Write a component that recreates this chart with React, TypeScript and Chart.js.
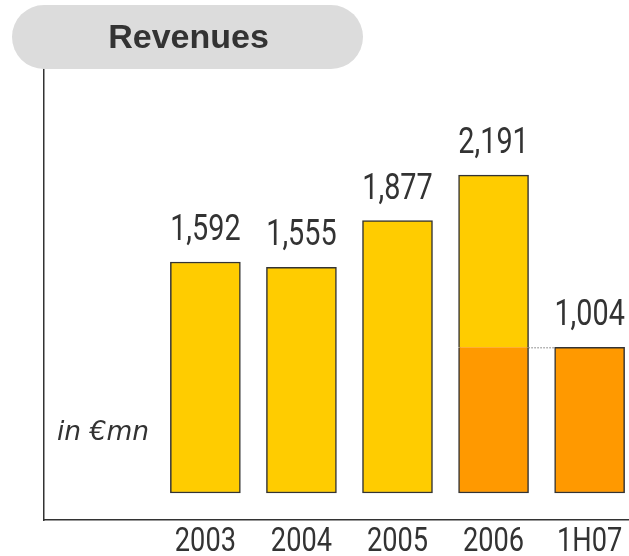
import React, { useEffect, useRef } from "react";
import { Chart, registerables } from "chart.js";

Chart.register(...registerables);

const categories = ["2003", "2004", "2005", "2006", "1H07"];
const totals = [1592, 1555, 1877, 2191, 1004];
const firstHalf: (number | null)[] = [null, null, null, 1004, 1004];
const valueLabels = ["1,592", "1,555", "1,877", "2,191", "1,004"];
const titleText = "Revenues";
const unitText = "in €mn";

const YELLOW = "#FFCC00";
const ORANGE = "#FF9900";
const DARK = "#333333";

const X_MIN = -1.68;
const X_MAX = 4.41;
const Y_MIN = -186;
const Y_MAX = 2929;

const baseValues = categories.map((_, i) => (firstHalf[i] != null ? (firstHalf[i] as number) : totals[i]));
const topValues = categories.map((_, i) =>
  firstHalf[i] != null && totals[i] > (firstHalf[i] as number) ? totals[i] - (firstHalf[i] as number) : null
);

function drawCondensed(ctx: CanvasRenderingContext2D, text: string, cx: number, y: number, font: string, sx: number) {
  ctx.save();
  ctx.font = font;
  ctx.translate(cx, y);
  ctx.scale(sx, 1);
  ctx.textAlign = "center";
  ctx.textBaseline = "alphabetic";
  ctx.fillStyle = DARK;
  ctx.fillText(text, 0, 0);
  ctx.restore();
}

const decorPlugin = {
  id: "decor",
  afterDatasetsDraw(chart: any) {
    const ctx: CanvasRenderingContext2D = chart.ctx;
    const xs = chart.scales.x;
    const ys = chart.scales.y;
    const area = chart.chartArea;
    const numFont = "36px Roboto";

    // value labels
    categories.forEach((_, i) => {
      const cx = xs.getPixelForValue(i);
      const top = ys.getPixelForValue(totals[i]);
      drawCondensed(ctx, valueLabels[i], cx, top - 22, numFont, 0.8);
    });

    // category labels
    categories.forEach((c, i) => {
      const cx = xs.getPixelForValue(i);
      drawCondensed(ctx, c, cx, area.bottom + 31, "34px Roboto", 0.8);
    });

    // dotted connector between 2006 first half and 1H07
    const meta0 = chart.getDatasetMeta(0);
    const a = meta0.data[3];
    const b = meta0.data[4];
    if (a && b && firstHalf[3] != null && firstHalf[4] != null) {
      const y = ys.getPixelForValue(firstHalf[3] as number);
      ctx.save();
      ctx.strokeStyle = DARK;
      ctx.lineWidth = 1;
      ctx.setLineDash([1, 2]);
      ctx.beginPath();
      ctx.moveTo(a.x + a.width / 2, y + 0.5);
      ctx.lineTo(b.x - b.width / 2, y + 0.5);
      ctx.stroke();
      ctx.restore();
    }

    // unit label
    ctx.save();
    ctx.font = "italic 26.5px 'DejaVu Sans'";
    ctx.fillStyle = DARK;
    ctx.textAlign = "left";
    ctx.textBaseline = "alphabetic";
    ctx.fillText(unitText, area.left + 13, 440);
    ctx.restore();

    // title pill
    const px = 12, py = 5, pw = 351, ph = 64, r = 32;
    ctx.save();
    ctx.fillStyle = "#DCDCDC";
    ctx.beginPath();
    ctx.moveTo(px + r, py);
    ctx.lineTo(px + pw - r, py);
    ctx.arc(px + pw - r, py + r, r, -Math.PI / 2, Math.PI / 2);
    ctx.lineTo(px + r, py + ph);
    ctx.arc(px + r, py + r, r, Math.PI / 2, (3 * Math.PI) / 2);
    ctx.closePath();
    ctx.fill();
    ctx.font = "bold 34px 'Liberation Sans'";
    ctx.fillStyle = DARK;
    ctx.textAlign = "center";
    ctx.textBaseline = "middle";
    ctx.fillText(titleText, px + pw / 2 + 1, py + ph / 2 + 2);
    ctx.restore();
  },
};

export default function App() {
  const ref = useRef<HTMLCanvasElement>(null);
  useEffect(() => {
    if (!ref.current) return;
    const BW = 1.5;
    const chart = new Chart(ref.current, {
      type: "bar",
      data: {
        datasets: [
          {
            label: "base",
            data: baseValues.map((v, i) => ({ x: i, y: v })),
            backgroundColor: categories.map((_, i) => (firstHalf[i] != null ? ORANGE : YELLOW)),
            borderColor: DARK,
            borderWidth: (c: any) =>
              topValues[c.dataIndex] != null ? { top: 0, left: BW, right: BW, bottom: BW } : BW,
            borderSkipped: false,
            barThickness: 70,
            grouped: false,
          } as any,
          {
            label: "top",
            data: topValues.map((v, i) => ({ x: i, y: v })),
            backgroundColor: YELLOW,
            borderColor: DARK,
            borderWidth: { top: BW, left: BW, right: BW, bottom: 0 },
            borderSkipped: false,
            barThickness: 70,
            grouped: false,
          } as any,
        ],
      },
      options: {
        responsive: false,
        animation: false,
        layout: { padding: { top: 68, left: 44, right: 0, bottom: 36 } },
        plugins: { legend: { display: false }, tooltip: { enabled: false }, title: { display: false } },
        scales: {
          x: {
            type: "linear",
            min: X_MIN,
            max: X_MAX,
            offset: false,
            stacked: true,
            grid: { display: false, drawTicks: false, offset: false },
            border: { display: true, color: DARK, width: 1.5 },
            ticks: { display: false, padding: 0 },
          },
          y: {
            type: "linear",
            min: Y_MIN,
            max: Y_MAX,
            stacked: true,
            grid: { display: false, drawTicks: false },
            border: { display: true, color: DARK, width: 1.5 },
            ticks: { display: false, padding: 0 },
          },
        },
      } as any,
      plugins: [decorPlugin],
    });
    return () => chart.destroy();
  }, []);
  return (
    <div style={{ position: "absolute", left: 0, top: 0, width: 629, height: 556, background: "#fff" }}>
      <canvas ref={ref} width={629} height={556} style={{ display: "block" }} />
    </div>
  );
}
